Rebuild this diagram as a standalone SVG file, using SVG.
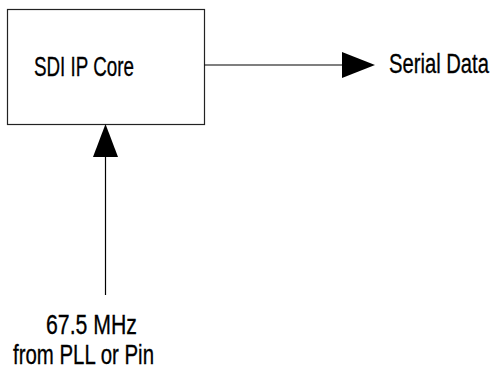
<svg xmlns="http://www.w3.org/2000/svg" width="492" height="370" viewBox="0 0 492 370">
  <style>
    .lbl { font-family: "Liberation Sans", "DejaVu Sans Condensed", sans-serif; font-size: 26.8px; fill: #000; stroke: #000; stroke-width: 0.3; }
    .box { fill: #fff; stroke: #222; stroke-width: 1.2; }
    .wire { stroke: #000; stroke-width: 1.2; fill: none; }
    .head { fill: #000; }
  </style>
  <rect width="492" height="370" fill="#fff"/>
  <g id="sdi-core">
    <rect class="box" x="7.5" y="9.5" width="197" height="115"/>
    <text class="lbl" transform="translate(34,76) scale(0.75,1)" textLength="133.3" lengthAdjust="spacingAndGlyphs">SDI IP Core</text>
  </g>
  <g id="connectors">
    <line class="wire" x1="204.5" y1="65" x2="343" y2="65"/>
    <polygon class="head" points="342,52 375,65 342,78"/>
    <line class="wire" x1="105.5" y1="156" x2="105.5" y2="295"/>
    <polygon class="head" points="105.5,124 118,157 93,157"/>
  </g>
  <g id="serial-data">
    <text class="lbl" transform="translate(389,73) scale(0.75,1)" textLength="133.3" lengthAdjust="spacingAndGlyphs">Serial Data</text>
  </g>
  <g id="clock-source">
    <text class="lbl" transform="translate(46,334) scale(0.75,1)" textLength="121.3" lengthAdjust="spacingAndGlyphs">67.5 MHz</text>
    <text class="lbl" transform="translate(13,364) scale(0.75,1)" textLength="188" lengthAdjust="spacingAndGlyphs">from PLL or Pin</text>
  </g>
</svg>
